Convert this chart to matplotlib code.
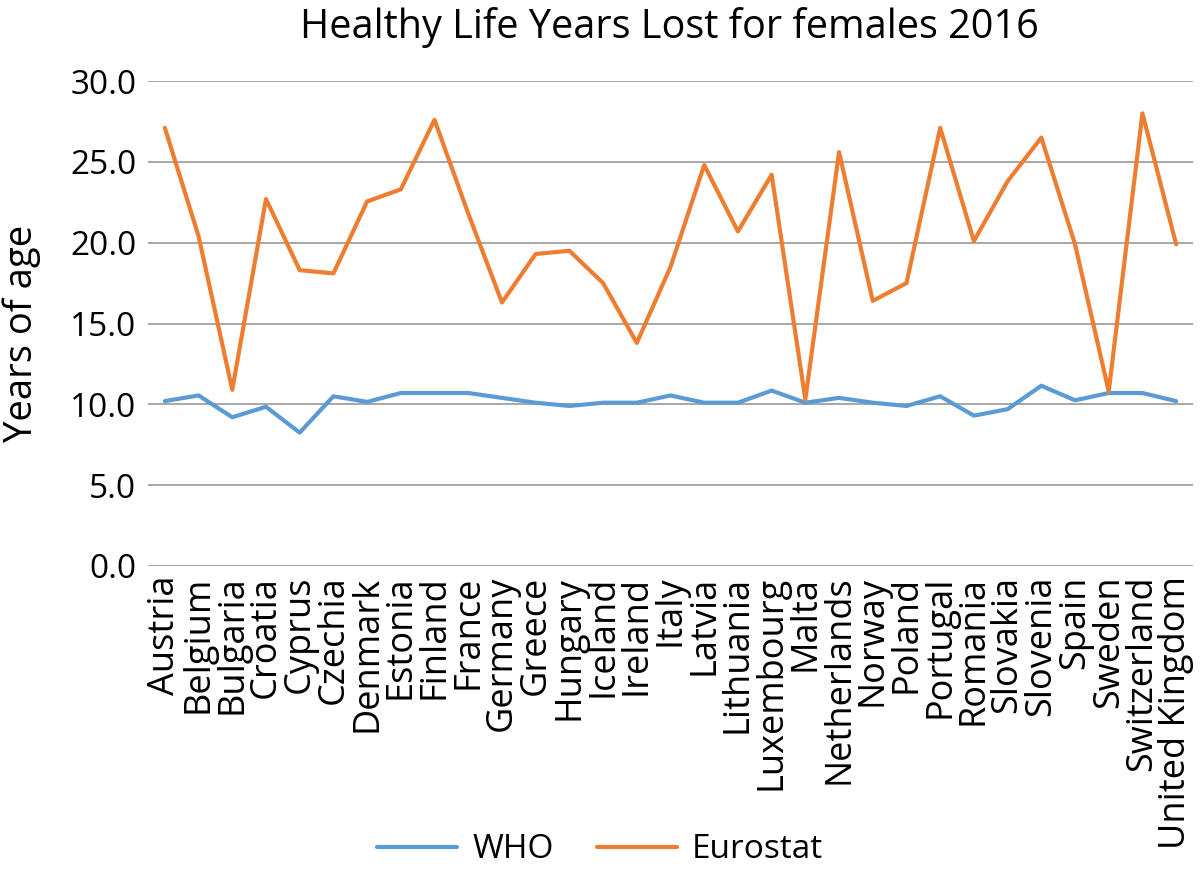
import matplotlib
matplotlib.use("Agg")
import matplotlib.pyplot as plt

countries = ["Austria", "Belgium", "Bulgaria", "Croatia", "Cyprus", "Czechia", "Denmark",
             "Estonia", "Finland", "France", "Germany", "Greece", "Hungary", "Iceland",
             "Ireland", "Italy", "Latvia", "Lithuania", "Luxembourg", "Malta", "Netherlands",
             "Norway", "Poland", "Portugal", "Romania", "Slovakia", "Slovenia", "Spain",
             "Sweden", "Switzerland", "United Kingdom"]
who = [10.2, 10.55, 9.2, 9.85, 8.25, 10.5, 10.15, 10.7, 10.7, 10.7, 10.4, 10.1, 9.9, 10.1,
       10.1, 10.55, 10.1, 10.1, 10.85, 10.1, 10.4, 10.1, 9.9, 10.5, 9.3, 9.7, 11.15, 10.25,
       10.7, 10.7, 10.2]
eurostat = [27.1, 20.4, 10.9, 22.7, 18.3, 18.1, 22.55, 23.3, 27.6, 21.8, 16.3, 19.3, 19.5,
            17.5, 13.8, 18.5, 24.8, 20.7, 24.2, 10.3, 25.6, 16.4, 17.5, 27.1, 20.1, 23.8,
            26.5, 19.9, 10.8, 28.0, 19.9]
yticks = [0, 5, 10, 15, 20, 25, 30]

plt.rcParams['font.family'] = ['Open Sans', 'DejaVu Sans']

fig = plt.figure(figsize=(12, 8.75), dpi=100)
ax = fig.add_axes([148/1200, 1-566/875, (1193-148)/1200, (566-81)/875])

x = list(range(len(countries)))
ax.plot(x, who, color='#5B9BD5', lw=3.0, label='WHO', solid_joinstyle='round',
        solid_capstyle='round')
ax.plot(x, eurostat, color='#ED7D31', lw=3.0, label='Eurostat', solid_joinstyle='round',
        solid_capstyle='round')

ax.set_xlim(-0.5, len(countries) - 0.5)
ax.set_ylim(0, 30)
ax.set_yticks(yticks)
ax.set_yticklabels([f"{v:.1f}" for v in yticks], fontsize=24)
ax.set_xticks(x)
ax.set_xticklabels(countries, rotation=90, fontsize=26)
ax.tick_params(axis='y', length=0, pad=8.5)
ax.tick_params(axis='x', length=0, pad=7)
for s in ax.spines.values():
    s.set_visible(False)
ax.grid(axis='y', color='#A0A0A0', lw=1.3)
ax.set_axisbelow(True)

fig.text(22/1200, 1-333/875, "Years of age", rotation=90, ha='center', va='center',
         fontsize=27.5)
fig.text(0.558, 1-28/875, "Healthy Life Years Lost for females 2016", ha='center', va='center',
         fontsize=28.5)

fig.legend(loc='center', bbox_to_anchor=(0.5, 1-850/875), ncol=2, frameon=False,
           fontsize=24, handlelength=2.4, handletextpad=0.45, columnspacing=1.3)

fig.savefig("out.png", dpi=100)
